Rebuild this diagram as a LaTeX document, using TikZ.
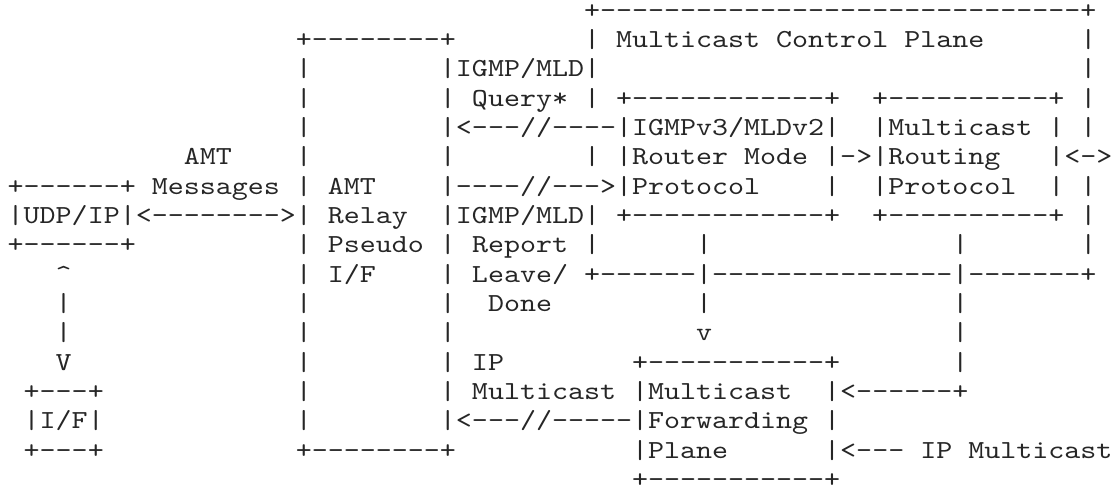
\documentclass[tikz,border=0pt]{standalone}
\usepackage{fontspec}
\usepackage{graphicx}
\setmonofont{lmmono10-regular.otf}
% Character grid: one cell is 16.01 units wide, one line 29.32 units high.
% The typewriter face is 0.525em wide, so it is widened to fill a cell.
\newcommand\cell[4]{\node[ascii] (#1) at ({7.7+16.01*(#2)},{18.3+29.32*(#3)}) {\scalebox{1.173}[1]{#4}};}
\begin{document}
\begin{tikzpicture}[x=1pt,y=-1pt,
  ascii/.style={anchor=base west,inner sep=0pt,outer sep=0pt,text=black!85,
    font=\ttfamily\fontsize{26}{29.32}\selectfont}]
\useasboundingbox (0,0) rectangle (1120,490);
% line 0
\cell{cpTop}{36}{0}{+------------------------------+}
% line 1
\cell{relayTop}{18}{1}{+--------+}
\cell{cpL1}{36}{1}{|}
\cell{cpTitle}{38}{1}{Multicast Control Plane}
\cell{cpR1}{67}{1}{|}
% line 2
\cell{relayL2}{18}{2}{|}
\cell{query1}{27}{2}{|IGMP/MLD|}
\cell{cpR2}{67}{2}{|}
% line 3
\cell{relayL3}{18}{3}{|}
\cell{relayR3}{27}{3}{|}
\cell{query2}{29}{3}{Query* |}
\cell{igmpTop}{38}{3}{+------------+}
\cell{routTop}{54}{3}{+----------+}
\cell{cpR3}{67}{3}{|}
% line 4
\cell{relayL4}{18}{4}{|}
\cell{queryArrow}{27}{4}{|<---//----|IGMPv3/MLDv2|}
\cell{rout1}{54}{4}{|Multicast | |}
% line 5
\cell{amt1}{11}{5}{AMT}
\cell{relayL5}{18}{5}{|}
\cell{relayR5}{27}{5}{|}
\cell{igmp2}{36}{5}{| |Router Mode |->|Routing}
\cell{rout2}{65}{5}{|<->}
% line 6
\cell{udpTop}{0}{6}{+------+ Messages | AMT}
\cell{reportArrow}{27}{6}{|----//--->|Protocol}
\cell{igmpR6}{51}{6}{|}
\cell{rout3}{54}{6}{|Protocol}
\cell{routR6}{65}{6}{| |}
% line 7
\cell{udp}{0}{7}{|UDP/IP|<-------->| Relay}
\cell{report1}{27}{7}{|IGMP/MLD| +------------+}
\cell{routBot}{54}{7}{+----------+ |}
% line 8
\cell{udpBot}{0}{8}{+------+}
\cell{report2}{18}{8}{| Pseudo | Report |}
\cell{igmpDown8}{43}{8}{|}
\cell{routDown8}{59}{8}{|}
\cell{cpR8}{67}{8}{|}
% line 9
\cell{upTip}{3}{9}{\char"005E}
\cell{relay9}{18}{9}{| I/F}
\cell{report3}{27}{9}{| Leave/ +------|---------------|-------+}
% line 10
\cell{ifLine10}{3}{10}{|}
\cell{relayL10}{18}{10}{|}
\cell{relayR10}{27}{10}{|}
\cell{report4}{30}{10}{Done}
\cell{igmpDown10}{43}{10}{|}
\cell{routDown10}{59}{10}{|}
% line 11
\cell{ifLine11}{3}{11}{|}
\cell{relayL11}{18}{11}{|}
\cell{relayR11}{27}{11}{|}
\cell{downTip}{43}{11}{v}
\cell{routDown11}{59}{11}{|}
% line 12
\cell{ifTip}{3}{12}{V}
\cell{relayL12}{18}{12}{|}
\cell{ipmc1}{27}{12}{| IP}
\cell{fwdTop}{39}{12}{+-----------+}
\cell{routDown12}{59}{12}{|}
% line 13
\cell{ifTop}{1}{13}{+---+}
\cell{relayL13}{18}{13}{|}
\cell{ipmc2}{27}{13}{| Multicast |Multicast}
\cell{fwdIn}{51}{13}{|<------+}
% line 14
\cell{ifBox}{1}{14}{|I/F|}
\cell{relayL14}{18}{14}{|}
\cell{fwdOut}{27}{14}{|<---//-----|Forwarding |}
% line 15
\cell{ifBot}{1}{15}{+---+}
\cell{relayBot}{18}{15}{+--------+}
\cell{fwd3}{39}{15}{|Plane}
\cell{ipIn}{51}{15}{|<--- IP Multicast}
% line 16
\cell{fwdBot}{39}{16}{+-----------+}
\end{tikzpicture}
\end{document}
